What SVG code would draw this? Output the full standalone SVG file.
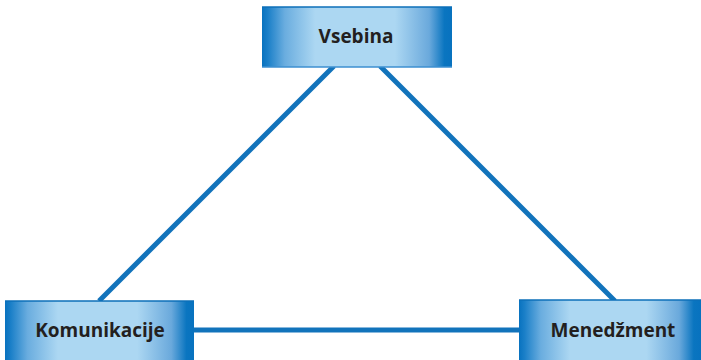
<svg xmlns="http://www.w3.org/2000/svg" width="701" height="360" viewBox="0 0 701 360">
<defs>
<linearGradient id="g" x1="0" y1="0" x2="1" y2="0">
<stop offset="0" stop-color="#0872bf"/>
<stop offset="0.03" stop-color="#1a7fc8"/>
<stop offset="0.12" stop-color="#6aaddf"/>
<stop offset="0.28" stop-color="#acd7f2"/>
<stop offset="0.7" stop-color="#acd7f2"/>
<stop offset="0.88" stop-color="#6aa9dc"/>
<stop offset="0.96" stop-color="#0a75c0"/>
<stop offset="1" stop-color="#0872bf"/>
</linearGradient>
<style>
.box{fill:url(#g);}
.top{fill:none;stroke:#0c6fb8;stroke-width:1.5;}
.bot{fill:none;stroke:#3d8fd0;stroke-width:1.5;}
.lbl{font-family:"Open Sans","Liberation Sans",sans-serif;font-weight:bold;font-size:19px;fill:#231f20;text-anchor:middle;}
.conn{stroke:#1273bb;stroke-width:5;fill:none;}
</style>
</defs>
<g id="connectors">
<line class="conn" x1="334" y1="66" x2="99" y2="301"/>
<line class="conn" x1="380" y1="66" x2="615" y2="301"/>
<line class="conn" x1="194" y1="330" x2="519" y2="330"/>
</g>
<g id="vsebina">
<rect class="box" x="262" y="7" width="190" height="60"/>
<line class="top" x1="262" y1="7" x2="452" y2="7"/>
<line class="bot" x1="262" y1="67" x2="452" y2="67"/>
<text class="lbl" x="356" y="43">Vsebina</text>
</g>
<g id="komunikacije">
<rect class="box" x="5" y="301" width="189" height="60"/>
<line class="top" x1="5" y1="301" x2="194" y2="301"/>
<text class="lbl" x="100" y="337">Komunikacije</text>
</g>
<g id="menedzment">
<rect class="box" x="519" y="300" width="182" height="61"/>
<line class="top" x1="519" y1="300" x2="701" y2="300"/>
<text class="lbl" x="613" y="337">Menedžment</text>
</g>
</svg>
